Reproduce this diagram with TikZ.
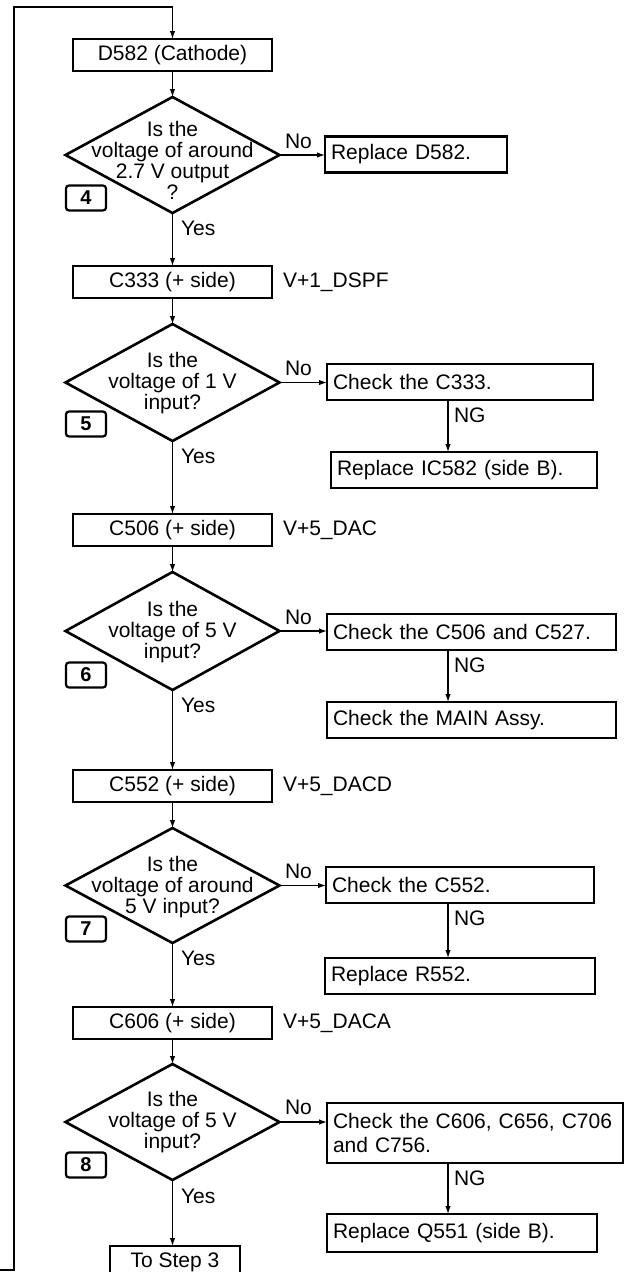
\documentclass[tikz,border=0pt]{standalone}
\usepackage{fontspec}
\setmainfont{Liberation Sans}
\usetikzlibrary{shapes.geometric,arrows.meta,calc}
\begin{document}
\begin{tikzpicture}[x=1pt,y=-1pt,
  every node/.style={font=\fontsize{21}{21}\selectfont, inner sep=0pt, outer sep=0pt},
  mbox/.style={draw, line width=2.6pt, minimum width=199pt, minimum height=32pt},
  rbox/.style={draw, line width=2.6pt, minimum height=36pt, align=left, inner xsep=6pt, anchor=west},
  dia/.style={draw, diamond, line width=2.6pt, minimum width=214pt, minimum height=116pt},
  dtext/.style={align=center},
  stepno/.style={draw, line width=2.2pt, rounded corners=3pt, minimum width=40pt, minimum height=25pt, font=\fontsize{20}{20}\selectfont\bfseries},
  arr/.style={line width=1.2pt, -{Latex[length=8pt,width=5.5pt]}},
  lbl/.style={anchor=base west},
  sig/.style={anchor=west}
]
\useasboundingbox (0,0) rectangle (624,1272);
\clip (0,0) rectangle (624,1272);

% loop
\coordinate (lin) at (0,1270);
\coordinate (lc1) at (14,1270);
\coordinate (lc2) at (14,7);

% step 4
\node[mbox] (b1) at (172.5,55) {D582 (Cathode)};
\node[dia] (d4) at (172.5,155) {};
\node[dtext] (t4) at (172.5,160) {Is the\\voltage of around\\2.7 V output\\?};
\node[stepno] (s4) at (86,198) {4};
\node[rbox, minimum width=182pt, text width=170pt] (r4) at (325,154.5) {Replace D582.};
\node[lbl] (no4) at (285,148) {No};
\node[lbl] (y4) at (181,235) {Yes};

% step 5
\node[mbox] (b2) at (172.5,282) {C333 (+ side)};
\node[sig] (v2) at (283,282) {V+1\_DSPF};
\node[dia, minimum height=117pt] (d5) at (172.5,382.5) {};
\node[dtext] (t5) at (172.5,383) {Is the\\voltage of 1 V\\input?};
\node[stepno] (s5) at (86,424) {5};
\node[rbox, text width=254pt] (r5a) at (327,382) {Check the C333.};
\node[rbox, text width=254pt] (r5b) at (331,470) {Replace IC582 (side B).};
\node[lbl] (no5) at (285,375) {No};
\node[lbl] (ng5) at (454,422) {NG};
\node[lbl] (y5) at (181,463.5) {Yes};

% step 6
\node[mbox] (b3) at (172.5,530) {C506 (+ side)};
\node[sig] (v3) at (283,530) {V+5\_DAC};
\node[dia, minimum height=118pt] (d6) at (172.5,631) {};
\node[dtext] (t6) at (172.5,632) {Is the\\voltage of 5 V\\input?};
\node[stepno] (s6) at (86,675) {6};
\node[rbox, text width=277pt] (r6a) at (327,632) {Check the C506 and C527.};
\node[rbox, text width=277pt] (r6b) at (327,720) {Check the MAIN Assy.};
\node[lbl] (no6) at (285,624) {No};
\node[lbl] (ng6) at (454,672) {NG};
\node[lbl] (y6) at (181,712) {Yes};

% step 7
\node[mbox] (b4) at (172.5,786) {C552 (+ side)};
\node[sig] (v4) at (283,786) {V+5\_DACD};
\node[dia, minimum height=115pt] (d7) at (172.5,885.5) {};
\node[dtext] (t7) at (172.5,887) {Is the\\voltage of around\\5 V input?};
\node[stepno] (s7) at (86,929) {7};
\node[rbox, text width=256pt] (r7a) at (326,885) {Check the C552.};
\node[rbox, text width=258pt] (r7b) at (325,976) {Replace R552.};
\node[lbl] (no7) at (285,878) {No};
\node[lbl] (ng7) at (454,925) {NG};
\node[lbl] (y7) at (181,965) {Yes};

% step 8
\node[mbox] (b5) at (172.5,1023) {C606 (+ side)};
\node[sig] (v5) at (283,1023) {V+5\_DACA};
\node[dia] (d8) at (172.5,1122) {};
\node[dtext] (t8) at (172.5,1122) {Is the\\voltage of 5 V\\input?};
\node[stepno] (s8) at (86,1165) {8};
\node[rbox, text width=284pt, minimum height=60pt, font=\fontsize{21}{24}\selectfont] (r8a) at (327,1133) {Check the C606, C656, C706\\and C756.};
\node[rbox, text width=258pt, minimum height=38pt] (r8b) at (327,1233) {Replace Q551 (side B).};
\node[lbl] (no8) at (285,1114) {No};
\node[lbl] (ng8) at (454,1185) {NG};
\node[lbl] (y8) at (181,1203) {Yes};

\node[mbox, minimum width=130pt] (b6) at (175,1262) {To Step 3};

% connectors
\draw[arr] (lin) -- (lc1) -- (lc2) -| (b1.north);
\draw[arr] (b1.south) -- (d4.north);
\draw[arr] (d4.east) -- (d4.east -| r4.west);
\draw[arr] (d4.south) -- (b2.north);
\draw[arr] (b2.south) -- (d5.north);
\draw[arr] (d5.east) -- (d5.east -| r5a.west);
\draw[arr] ([xshift=121pt]r5a.south west) -- ([xshift=121pt]r5a.south west |- r5b.north);
\draw[arr] (d5.south) -- (b3.north);
\draw[arr] (b3.south) -- (d6.north);
\draw[arr] (d6.east) -- (d6.east -| r6a.west);
\draw[arr] ([xshift=121pt]r6a.south west) -- ([xshift=121pt]r6a.south west |- r6b.north);
\draw[arr] (d6.south) -- (b4.north);
\draw[arr] (b4.south) -- (d7.north);
\draw[arr] (d7.east) -- (d7.east -| r7a.west);
\draw[arr] ([xshift=122pt]r7a.south west) -- ([xshift=122pt]r7a.south west |- r7b.north);
\draw[arr] (d7.south) -- (b5.north);
\draw[arr] (b5.south) -- (d8.north);
\draw[arr] (d8.east) -- (d8.east -| r8a.west);
\draw[arr] ([xshift=121pt]r8a.south west) -- ([xshift=121pt]r8a.south west |- r8b.north);
\draw[arr] (d8.south) -- (d8.south |- b6.north);
\end{tikzpicture}
\end{document}
